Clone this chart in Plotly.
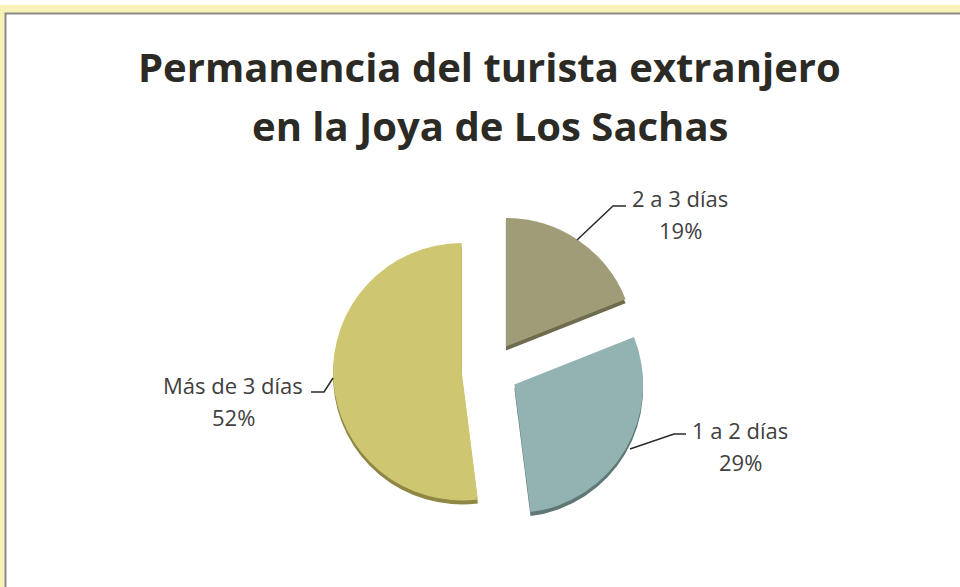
import plotly.graph_objects as go

W, H = 960, 587

# ---- data ----
categories = ["2 a 3 días", "1 a 2 días", "Más de 3 días"]
values = [19, 29, 52]
colors = ["#a09c78", "#93b3b2", "#cfc672"]
shadow_colors = ["#6f6b4f", "#5f7877", "#8f8845"]
title_lines = ["Permanencia del turista extranjero", "en la Joya de Los Sachas"]

# ---- layout helpers (pixel -> paper) ----
def px(x, y):
    return x / W, 1 - y / H

cx, cy, half = 490, 370, 157
dom_x = [(cx - half) / W, (cx + half) / W]
dom_y = [1 - (cy + half) / H, 1 - (cy - half) / H]
sh = 4 / H

pull = [0.22, 0.22, 0.22]

fig = go.Figure()
fig.add_trace(go.Pie(
    labels=categories, values=values, sort=False, direction="clockwise", rotation=0,
    pull=pull, textinfo="none", hoverinfo="skip",
    marker=dict(colors=shadow_colors, line=dict(width=0)),
    domain=dict(x=dom_x, y=[dom_y[0] - sh, dom_y[1] - sh]), showlegend=False,
))
fig.add_trace(go.Pie(
    labels=categories, values=values, sort=False, direction="clockwise", rotation=0,
    pull=pull, textinfo="none",
    marker=dict(colors=colors, line=dict(width=0)),
    domain=dict(x=dom_x, y=dom_y), showlegend=False,
))

shapes = []
# chart-area frame with yellow glow
g0 = px(1, 9)
shapes.append(dict(type="rect", xref="paper", yref="paper", x0=g0[0], y0=-0.1, x1=1.1, y1=g0[1],
                   line=dict(color="rgba(245,238,160,0.75)", width=8), layer="below"))
f0 = px(5.5, 13.5)
shapes.append(dict(type="rect", xref="paper", yref="paper", x0=f0[0], y0=-0.1, x1=1.1, y1=f0[1],
                   line=dict(color="#8a8a8a", width=2), fillcolor="white", layer="below"))

# leader lines
leaders = [
    [(577, 240), (613, 206), (626, 206)],
    [(630, 449), (674, 434), (686, 434)],
    [(333, 378), (324, 392), (311, 392)],
]
for pts in leaders:
    p = [px(*q) for q in pts]
    path = "M " + " L ".join(f"{a},{b}" for a, b in p)
    shapes.append(dict(type="path", xref="paper", yref="paper", path=path,
                       line=dict(color="#2a2a2a", width=1.5)))

annotations = []
for i, line in enumerate(title_lines):
    x, y = px(490, 67 + 59 * i)
    annotations.append(dict(text=f"<b>{line}</b>", x=x, y=y, xref="paper", yref="paper",
                            showarrow=False, xanchor="center", yanchor="middle",
                            font=dict(family="Open Sans, Lato, sans-serif", size=40, color="#2b2a25")))

label_pos = [(680, 198), (740, 430), (233, 385)]
for cat, v, (lx, ly) in zip(categories, values, label_pos):
    for k, t in enumerate([cat, f"{v}%"]):
        x, y = px(lx, ly + 32 * k)
        annotations.append(dict(text=t, x=x, y=y, xref="paper", yref="paper",
                                showarrow=False, xanchor="center", yanchor="middle",
                                font=dict(family="Open Sans, Lato, sans-serif", size=22, color="#404040")))

fig.update_layout(
    width=W, height=H, margin=dict(l=0, r=0, t=0, b=0),
    paper_bgcolor="white", plot_bgcolor="white",
    shapes=shapes, annotations=annotations,
)

fig.write_html("out.html", config={"displayModeBar": False},
               post_script="document.body.style.margin='0';document.body.style.overflow='hidden';")
